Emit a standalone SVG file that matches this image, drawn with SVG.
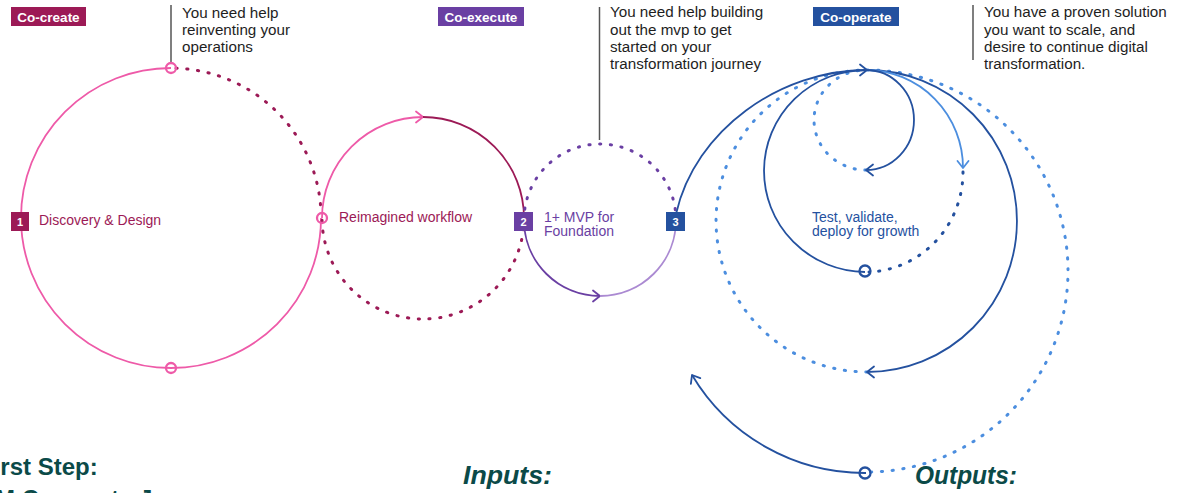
<svg xmlns="http://www.w3.org/2000/svg" width="1188" height="493" viewBox="0 0 1188 493">
<defs>
<style>
.t{font-family:"Liberation Sans",Arial,sans-serif}
.call{font-size:15.2px;fill:#1e1e1e}
.lbl{font-size:14px}
.tag{font-size:13.5px;font-weight:bold;fill:#fff;text-anchor:middle}
.num{font-size:11px;font-weight:bold;fill:#fff;text-anchor:middle}
.hd{font-weight:bold;fill:#0b4a48;font-size:24px}
.io{font-weight:bold;font-style:italic;fill:#0b4a48;font-size:26px}
.vline{stroke:#555;stroke-width:1.5;fill:none}
.s{fill:none;stroke-width:1.8}
.d{fill:none;stroke-width:3;stroke-linecap:round;stroke-dasharray:1.2 9.6}
.ring{fill:none;stroke-width:2.3}
.pink{stroke:#ee5aa8}.maroon{stroke:#9c1a56}.purple{stroke:#6a3fa3}.lpurple{stroke:#ab8ad2}.blue{stroke:#24519f}.lblue{stroke:#4c8edf}
</style>
<marker id="aPink" markerUnits="userSpaceOnUse" orient="auto" overflow="visible" markerWidth="10" markerHeight="14"><path d="M-7,-5.5 L0,0 L-7,5.5" fill="none" stroke="#ee5aa8" stroke-width="1.8" stroke-linejoin="round" stroke-linecap="round"/></marker>
<marker id="aPurple" markerUnits="userSpaceOnUse" orient="auto" overflow="visible" markerWidth="10" markerHeight="14"><path d="M-7,-5.5 L0,0 L-7,5.5" fill="none" stroke="#6a3fa3" stroke-width="1.8" stroke-linejoin="round" stroke-linecap="round"/></marker>
<marker id="aBlue" markerUnits="userSpaceOnUse" orient="auto" overflow="visible" markerWidth="10" markerHeight="14"><path d="M-7,-5.5 L0,0 L-7,5.5" fill="none" stroke="#24519f" stroke-width="1.8" stroke-linejoin="round" stroke-linecap="round"/></marker>
<marker id="aLBlue" markerUnits="userSpaceOnUse" orient="auto" overflow="visible" markerWidth="10" markerHeight="14"><path d="M-7,-5.5 L0,0 L-7,5.5" fill="none" stroke="#4c8edf" stroke-width="1.8" stroke-linejoin="round" stroke-linecap="round"/></marker>
</defs>
<rect width="1188" height="493" fill="#fff"/>

<g id="connectors">
  <line class="vline" x1="171" y1="5" x2="171" y2="63"/>
  <line class="vline" x1="599.5" y1="7" x2="599.5" y2="140"/>
  <line class="vline" x1="973" y1="5" x2="973" y2="60"/>

  <path class="s pink" d="M171,68 A150,150 0 1,0 321,218"/>
  <path class="d maroon" d="M176,68.2 A150,150 0 0,1 321,213"/>
  <path class="s pink" d="M322,218 A101,101 0 0,1 423,117" marker-end="url(#aPink)"/>
  <path class="s maroon" d="M423,117 A101,101 0 0,1 524,218"/>
  <path class="d maroon" d="M524,218 A101,101 0 0,1 322,218"/>
  <path class="d purple" d="M524,220 A76,76 0 0,1 676,220"/>
  <path class="s purple" d="M524,220 A76,76 0 0,0 600,296" marker-end="url(#aPurple)"/>
  <path class="s lpurple" d="M600,296 A76,76 0 0,0 676,220"/>

  <path class="d lblue" d="M867,70 A201,201 0 0,1 867,472"/>
  <path class="d lblue" d="M867,372 A151,151 0 0,1 867,70"/>
  <path class="d lblue" d="M866,170 A52,50 0 0,1 866,70"/>
  <path class="d blue" d="M963,172 A98,100 0 0,1 869,272"/>
  <path class="s blue" d="M676,214 C695,130 780,70 867,70" marker-end="url(#aBlue)"/>
  <path class="s blue" d="M867,70 A150,151 0 0,1 867,372" marker-end="url(#aBlue)"/>
  <path class="s blue" d="M867,70 A102,101 0 0,0 865,272"/>
  <path class="s lblue" d="M867,70 A97,98 0 0,1 963,168" marker-end="url(#aLBlue)"/>
  <path class="s blue" d="M866,70 A48,50 0 0,1 866,170" marker-end="url(#aBlue)"/>
  <path class="s blue" d="M866,473 A201,201 0 0,1 692,375" marker-end="url(#aBlue)"/>

  <circle class="ring pink" cx="171" cy="68" r="5"/>
  <circle class="ring pink" cx="322" cy="218" r="5"/>
  <circle class="ring pink" cx="171" cy="368" r="5"/>
  <circle class="ring blue" cx="865" cy="271" r="5.5"/>
  <circle class="ring blue" cx="865" cy="473" r="5.5"/>
</g>

<g id="tag-cocreate">
  <rect x="11" y="7" width="75" height="19" fill="#9c1a56"/>
  <text class="t tag" x="48.5" y="21.5">Co-create</text>
</g>
<g id="tag-coexecute">
  <rect x="438" y="7" width="86" height="19" fill="#6a3fa3"/>
  <text class="t tag" x="481" y="21.5">Co-execute</text>
</g>
<g id="tag-cooperate">
  <rect x="813" y="7" width="86" height="19" fill="#24519f"/>
  <text class="t tag" x="856" y="21.5">Co-operate</text>
</g>

<g id="callout-1">
  <text class="t call" x="182" y="17.5">You need help</text>
  <text class="t call" x="182" y="35">reinventing your</text>
  <text class="t call" x="182" y="52">operations</text>
</g>
<g id="callout-2">
  <text class="t call" x="610" y="17">You need help building</text>
  <text class="t call" x="610" y="34.5">out the mvp to get</text>
  <text class="t call" x="610" y="51.5">started on your</text>
  <text class="t call" x="610" y="68.5">transformation journey</text>
</g>
<g id="callout-3">
  <text class="t call" x="984" y="17">You have a proven solution</text>
  <text class="t call" x="984" y="34.5">you want to scale, and</text>
  <text class="t call" x="984" y="51.5">desire to continue digital</text>
  <text class="t call" x="984" y="68.5">transformation.</text>
</g>

<g id="step-1">
  <rect x="11" y="212" width="18" height="19" fill="#9c1a56"/>
  <text class="t num" x="20" y="225.5">1</text>
  <text class="t lbl" x="39" y="225" fill="#9c1a56">Discovery &amp; Design</text>
</g>
<g id="reimagined">
  <text class="t lbl" x="339" y="222" fill="#9c1a56">Reimagined workflow</text>
</g>
<g id="step-2">
  <rect x="514" y="212" width="19" height="19" fill="#6a3fa3"/>
  <text class="t num" x="523.5" y="225.5">2</text>
  <text class="t lbl" x="544" y="221.5" fill="#6a3fa3">1+ MVP for</text>
  <text class="t lbl" x="544" y="235.5" fill="#6a3fa3">Foundation</text>
</g>
<g id="step-3">
  <rect x="666" y="212" width="19" height="19" fill="#24519f"/>
  <text class="t num" x="675.5" y="225.5">3</text>
</g>
<g id="growth">
  <text class="t lbl" x="812" y="221.5" fill="#24519f">Test, validate,</text>
  <text class="t lbl" x="812" y="235.5" fill="#24519f">deploy for growth</text>
</g>

<g id="bottom-text">
  <text class="t hd" x="-21" y="475">First Step:</text>
  <text class="t hd" x="-29" y="507">IBM Co-create Journey</text>
  <text class="t io" x="463" y="484" textLength="89" lengthAdjust="spacingAndGlyphs">Inputs:</text>
  <text class="t io" x="915" y="484" textLength="102" lengthAdjust="spacingAndGlyphs">Outputs:</text>
</g>
</svg>
